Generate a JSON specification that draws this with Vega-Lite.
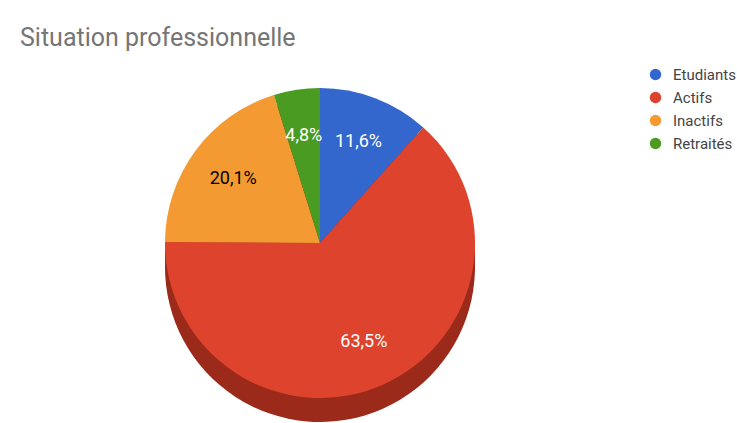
{
  "$schema": "https://vega.github.io/schema/vega-lite/v6.json",
  "width": 626,
  "height": 360,
  "autosize": {"type": "none"},
  "padding": {"left": 7, "top": 63, "right": 104, "bottom": 0},
  "background": "white",
  "config": {"view": {"stroke": null}},
  "title": {
    "text": "Situation professionnelle",
    "anchor": "start",
    "frame": "group",
    "offset": -8,
    "dx": 13,
    "baseline": "alphabetic",
    "font": "Roboto",
    "fontSize": 25,
    "fontWeight": "normal",
    "color": "#757575"
  },
  "data": {
    "values": [
      {"category": "Etudiants", "value": 11.6, "label": "11,6%", "order": 1},
      {"category": "Actifs", "value": 63.5, "label": "63,5%", "order": 2},
      {"category": "Inactifs", "value": 20.1, "label": "20,1%", "order": 3},
      {"category": "Retraités", "value": 4.8, "label": "4,8%", "order": 4}
    ]
  },
  "encoding": {
    "theta": {"field": "value", "type": "quantitative", "stack": true},
    "order": {"field": "order", "type": "quantitative"}
  },
  "layer": [
    {"mark": {"type": "arc", "outerRadius": 155, "yOffset": 24, "color": "#9b2a1b"}},
    {"mark": {"type": "arc", "outerRadius": 155, "yOffset": 12, "color": "#9b2a1b"}},
    {
      "mark": {"type": "arc", "outerRadius": 155},
      "encoding": {
        "color": {
          "field": "category",
          "type": "nominal",
          "scale": {
            "domain": ["Etudiants", "Actifs", "Inactifs", "Retraités"],
            "range": ["#3367cd", "#dd432d", "#f49a32", "#4a9b22"]
          },
          "legend": {
            "orient": "none",
            "legendX": 641,
            "legendY": 4,
            "title": null,
            "symbolType": "circle",
            "symbolSize": 130,
            "labelFont": "Roboto",
            "labelFontSize": 15,
            "labelColor": "#444444",
            "rowPadding": 7,
            "labelOffset": 10
          }
        }
      }
    },
    {
      "mark": {"type": "text", "radius": 108, "font": "Roboto", "fontSize": 18},
      "encoding": {
        "text": {"field": "label", "type": "nominal"},
        "color": {
          "condition": {"test": "datum.category === 'Inactifs'", "value": "#000000"},
          "value": "#ffffff"
        }
      }
    }
  ]
}
